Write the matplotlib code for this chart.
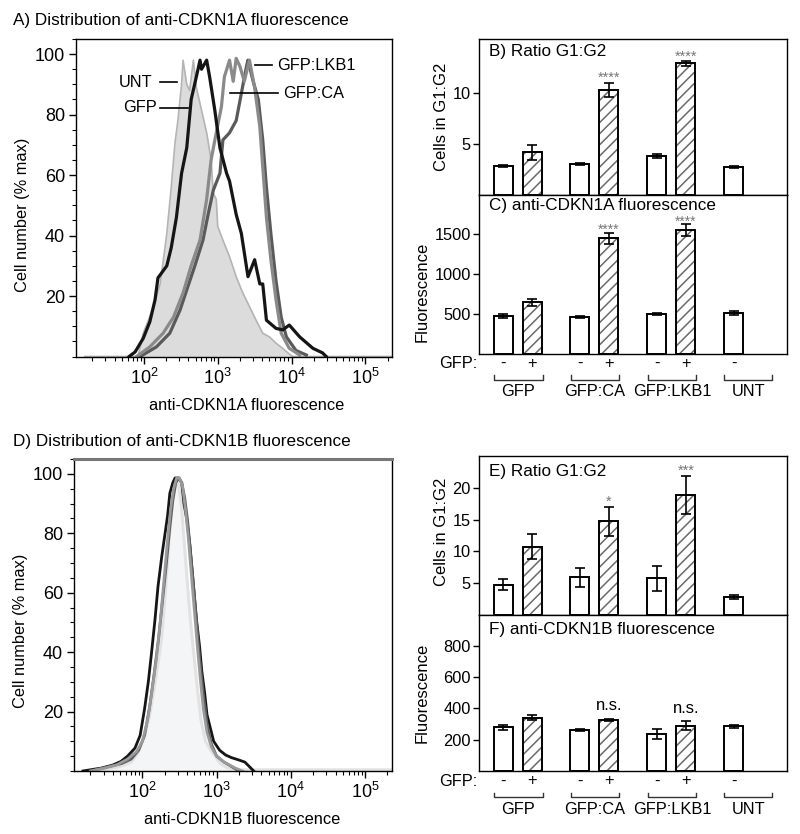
#!/usr/bin/env python3
#coding: utf-8

import numpy as np
import matplotlib
matplotlib.use("Agg")
import matplotlib.pyplot as plt
from matplotlib.ticker import FixedLocator, MultipleLocator, NullFormatter


plt.rcParams['font.family'] = ['Liberation Sans', 'DejaVu Sans']
plt.rcParams['mathtext.default'] = 'regular'
plt.rcParams['hatch.linewidth'] = 1.1

# ---- A) flow histograms, x = log10(fluorescence), y = cell number (% max)
a_gfp_x = [1.2, 1.92, 1.99, 2.06, 2.13, 2.22, 2.31, 2.37, 2.42, 2.46, 2.51, 2.53, 2.58, 2.62, 2.67,
	2.71, 2.78, 2.85, 2.91, 2.94, 2.98, 3.00, 3.07, 3.16, 3.25, 3.34, 3.43, 3.52, 3.61, 3.70,
	3.79, 3.88, 3.97, 4.02, 5.4]
a_gfp_y = [0, 0, 7.7, 12, 16.5, 24, 40.7, 56, 70.5, 78, 90, 98, 90, 88, 98,
	89, 81.5, 74, 65, 54, 52, 43, 38.5, 33, 26.4, 21, 16.5, 12, 7.7, 6.5,
	4.4, 2.7, 0.8, 0, 0]
a_unt_x = [1.8, 1.88, 1.99, 2.08, 2.15, 2.19, 2.31, 2.37, 2.44, 2.51, 2.58, 2.64, 2.71, 2.76, 2.78,
	2.85, 2.89, 2.96, 3.03, 3.12, 3.16, 3.25, 3.32, 3.41, 3.50, 3.57, 3.61, 3.66, 3.79, 3.88,
	3.97, 4.11, 4.29, 4.42, 4.47]
a_unt_y = [0, 1.5, 6, 11.5, 18.7, 26, 30, 36, 46, 60.6, 69, 85, 92.5, 98, 95,
	98, 92.5, 81.5, 69, 60.6, 58, 47, 40.7, 26.4, 32, 24, 24, 12, 9.3, 8.8,
	10.4, 6.5, 2.7, 1.2, 0]
a_ca_x = [1.9, 2.08, 2.26, 2.40, 2.53, 2.64, 2.76, 2.85, 2.91, 2.98, 3.05, 3.09, 3.16, 3.21, 3.25,
	3.30, 3.36, 3.43, 3.50, 3.57, 3.61, 3.66, 3.72, 3.79, 3.86, 3.97, 4.11]
a_ca_y = [0, 3.2, 7.7, 13, 21, 30, 38.5, 52, 65, 74, 82.6, 92.5, 98, 91, 98.6,
	96, 91, 98, 89, 76, 62.7, 46, 32, 18.7, 7.7, 2.7, 0.5]
a_lkb1_x = [1.95, 2.17, 2.35, 2.49, 2.58, 2.69, 2.80, 2.87, 2.94, 3.03, 3.07, 3.16, 3.25, 3.32, 3.39,
	3.41, 3.48, 3.55, 3.61, 3.66, 3.72, 3.79, 3.86, 3.93, 4.06, 4.2]
a_lkb1_y = [0, 3.2, 7.7, 15.4, 22, 30, 38.5, 47, 55, 60.6, 71.6, 74, 78, 87, 96,
	98, 91, 85, 71.6, 56, 40.7, 25, 13, 6.5, 2, 0.5]

# ---- D) flow histograms
d_gfp_x = [1.2, 1.5, 1.7, 1.85, 1.94, 2.02, 2.10, 2.16, 2.21, 2.26, 2.31, 2.36, 2.41, 2.45, 2.49,
	2.53, 2.57, 2.61, 2.65, 2.69, 2.74, 2.79, 2.85, 2.92, 2.98, 3.05, 3.15, 3.3, 5.4]
d_gfp_y = [0, 0.5, 1.5, 3, 6, 11, 19, 28, 36, 45, 60, 78, 92, 98, 96,
	88, 75, 62, 50, 40, 28, 17, 10, 7, 5, 2.5, 1, 0.4, 0.4]
d_unt_x = [1.2, 1.45, 1.6, 1.71, 1.80, 1.90, 1.97, 2.03, 2.08, 2.12, 2.17, 2.21, 2.26, 2.30, 2.34,
	2.37, 2.41, 2.44, 2.49, 2.53, 2.56, 2.60, 2.64, 2.67, 2.70, 2.73, 2.77, 2.80, 2.84, 2.87,
	2.92, 2.96, 3.04, 3.12, 3.20, 3.30, 3.38, 3.44, 3.5]
d_unt_y = [0, 1, 2, 3.2, 5, 7.7, 12, 21, 30, 39, 51, 62, 72, 79, 86,
	93.5, 97, 98.6, 98.6, 97, 90, 84.5, 76, 67.6, 59, 50.6, 42, 33.7, 26, 19,
	14, 10, 7, 5.4, 4.5, 3.7, 3, 1.5, 0]
d_ca_x = [1.3, 1.5, 1.65, 1.8, 1.92, 2.0, 2.07, 2.13, 2.19, 2.24, 2.29, 2.34, 2.38, 2.42, 2.46,
	2.50, 2.54, 2.58, 2.62, 2.66, 2.70, 2.74, 2.78, 2.82, 2.87, 2.93, 3.0, 3.1, 3.25, 3.35]
d_ca_y = [0, 1, 2, 4, 6.5, 10, 17, 27, 38, 50, 64, 78, 88, 95, 98.6,
	98.6, 96, 88, 78, 66, 54, 42, 31, 21, 13, 8, 5, 3, 1, 0]
d_lkb1_x = [1.3, 1.55, 1.72, 1.85, 1.95, 2.03, 2.10, 2.16, 2.22, 2.27, 2.32, 2.37, 2.41, 2.45, 2.49,
	2.53, 2.57, 2.61, 2.65, 2.69, 2.73, 2.77, 2.82, 2.87, 2.93, 3.0, 3.1, 3.2, 3.3]
d_lkb1_y = [0, 1.5, 2.5, 4, 7, 12, 22, 33, 45, 57, 69, 82, 91, 97, 98.6,
	97, 92, 84, 73, 62, 50, 38, 26, 16, 9, 5, 3, 1.5, 0]

# ---- bar charts (B, C, E, F)
groups = ["GFP", "GFP:CA", "GFP:LKB1", "UNT"]
group_members = [[0, 1], [2, 3], [4, 5], [6]]
signs = ["-", "+", "-", "+", "-", "+", "-"]
bar_pos = [0, 1, 2.65, 3.65, 5.3, 6.3, 7.95]
hatched = [False, True, False, True, False, True, False]

b_ratio = [2.8, 4.2, 3.05, 10.3, 3.8, 12.9, 2.75]
b_err = [0.1, 0.75, 0.1, 0.7, 0.2, 0.2, 0.1]
b_marks = {3: "****", 5: "****"}
c_fluo = [466, 643, 462, 1445, 496, 1550, 509]
c_err = [25, 45, 15, 70, 10, 70, 25]
c_marks = {3: "****", 5: "****"}
e_ratio = [4.7, 10.7, 5.9, 14.75, 5.7, 18.95, 2.8]
e_err = [0.85, 2.0, 1.5, 2.3, 2.0, 3.0, 0.35]
e_marks = {3: "*", 5: "***"}
f_fluo = [278, 340, 262, 327, 236, 290, 285]
f_err = [15, 15, 8, 8, 30, 30, 10]
f_marks = {3: "n.s.", 5: "n.s."}


def draw_histogram(ax, fill, curves, xlabel, label_x, ylabel_y):
	fx, fy = fill
	ax.fill_between(10 ** np.array(fx), fy, color='#dcdcdc', lw=0)
	ax.plot(10 ** np.array(fx), fy, color='#b4b4b4', lw=1.2)
	for xs, ys, col, lw in curves:
		ax.plot(10 ** np.array(xs), ys, color=col, lw=lw)
	ax.set_xscale('log')
	ax.set_xlim(12, 2.3e5)
	ax.set_ylim(0, 105)
	ax.xaxis.set_major_locator(FixedLocator([1e2, 1e3, 1e4, 1e5]))
	ax.set_xticklabels(["$10^{2}$", "$10^{3}$", "$10^{4}$", "$10^{5}$"])
	minors = [m * 10 ** d for d in range(1, 6) for m in range(2, 10)]
	ax.xaxis.set_minor_locator(FixedLocator(minors))
	ax.xaxis.set_minor_formatter(NullFormatter())
	ax.yaxis.set_major_locator(FixedLocator([20, 40, 60, 80, 100]))
	ax.yaxis.set_minor_locator(MultipleLocator(5))
	ax.tick_params(which='major', direction='out', length=5, width=1, labelsize=13, pad=3)
	ax.tick_params(which='minor', direction='out', length=3, width=0.8)
	ax.tick_params(top=False, right=False, which='both')
	for sp in ax.spines.values():
		sp.set_linewidth(1)
	ax.set_xlabel(xlabel, fontsize=11.8)
	ax.xaxis.set_label_coords(label_x, -0.13)
	ax.set_ylabel("Cell number (% max)", fontsize=11.8)
	ax.yaxis.set_label_coords(-0.145, ylabel_y)


def draw_bars(ax, values, errors, ylim, yticks, title, title_y, ylabel, ylabel_xy, marks, mark_size, mark_color, mark_off):
	w = 0.66
	ax.bar(bar_pos, values, width=w, color='white', lw=0, zorder=2)
	hx = [p for p, h in zip(bar_pos, hatched) if h]
	hv = [v for v, h in zip(values, hatched) if h]
	ax.bar(hx, hv, width=w, fill=False, hatch='///', edgecolor='#6a6a6a', lw=0, zorder=3)
	ax.bar(bar_pos, values, width=w, fill=False, edgecolor='black', lw=1.4, zorder=4)
	ax.errorbar(bar_pos, values, yerr=errors, fmt='none', ecolor='black', elinewidth=1.2,
		capsize=3.6, capthick=1.2, zorder=5)
	for i, txt in marks.items():
		ax.annotate(txt, (bar_pos[i], values[i] + errors[i]), xytext=(0, mark_off),
			textcoords='offset points', ha='center', va='baseline', fontsize=mark_size, color=mark_color)
	ax.set_xlim(-0.83, 9.79)
	ax.set_ylim(*ylim)
	ax.set_xticks([])
	ax.set_yticks(yticks)
	ax.tick_params(axis='y', direction='out', length=4, width=1, labelsize=11.8, pad=2)
	for sp in ax.spines.values():
		sp.set_linewidth(1)
	ax.text(0.032, title_y, title, transform=ax.transAxes, fontsize=12.3, ha='left', va='center')
	ax.set_ylabel(ylabel, fontsize=12)
	ax.yaxis.set_label_coords(*ylabel_xy)


def draw_groups(ax, fig):
	h = ax.get_position().height * fig.get_figheight() * fig.dpi
	tr = ax.get_xaxis_transform()
	ax.text(-0.88, -10 / h, "GFP:", transform=tr, ha='right', va='center', fontsize=11.8)
	for x, s in zip(bar_pos, signs):
		ax.text(x, -10 / h, s, transform=tr, ha='center', va='center', fontsize=11.8)
	for name, members in zip(groups, group_members):
		x0 = bar_pos[members[0]] - 0.32
		x1 = bar_pos[members[-1]] + 0.36 if len(members) > 1 else bar_pos[members[0]] + 1.33
		ax.plot([x0, x0, x1, x1], [-21.5 / h, -26 / h, -26 / h, -21.5 / h], transform=tr,
			clip_on=False, color='#333333', lw=1)
		ax.text((x0 + x1) / 2, -38.5 / h, name, transform=tr, ha='center', va='center', fontsize=11.8)


if __name__ == "__main__":
	fig = plt.figure(figsize=(8, 8.34), dpi=100)
	H = 834.0
	W = 800.0

	ax_a = fig.add_axes([76 / W, 1 - 356.5 / H, 316 / W, 317.5 / H])
	ax_b = fig.add_axes([479 / W, 1 - 195 / H, 308 / W, 156 / H])
	ax_c = fig.add_axes([479 / W, 1 - 353.5 / H, 308 / W, 158.5 / H])
	ax_d = fig.add_axes([74 / W, 1 - 771 / H, 318 / W, 312 / H])
	ax_e = fig.add_axes([479 / W, 1 - 614.5 / H, 308 / W, 158.5 / H])
	ax_f = fig.add_axes([479 / W, 1 - 771 / H, 308 / W, 156.5 / H])

	fig.text(13 / W, 1 - 21 / H, "A) Distribution of anti-CDKN1A fluorescence", fontsize=12.3, va='center')
	fig.text(13 / W, 1 - 441 / H, "D) Distribution of anti-CDKN1B fluorescence", fontsize=12.3, va='center')

	draw_histogram(ax_a, (a_gfp_x, a_gfp_y),
		[(a_lkb1_x, a_lkb1_y, '#5a5a5a', 2.3),
		 (a_ca_x, a_ca_y, '#8a8a8a', 2.3),
		 (a_unt_x, a_unt_y, '#151515', 2.3)],
		"anti-CDKN1A fluorescence", 0.54, 0.446)
	# labels inside panel A
	ax_a.text(10 ** 2.11, 90.7, "UNT", ha='right', va='center', fontsize=11.8)
	ax_a.plot([10 ** 2.216, 10 ** 2.446], [90.7, 90.7], color='black', lw=1.2)
	ax_a.text(10 ** 2.176, 82.2, "GFP", ha='right', va='center', fontsize=11.8)
	ax_a.plot([10 ** 2.216, 10 ** 2.595], [82.2, 82.2], color='black', lw=1.2)
	ax_a.text(10 ** 3.80, 96.4, "GFP:LKB1", ha='left', va='center', fontsize=11.8)
	ax_a.plot([10 ** 3.50, 10 ** 3.73], [96.4, 96.4], color='black', lw=1.2)
	ax_a.text(10 ** 3.88, 87.1, "GFP:CA", ha='left', va='center', fontsize=11.8)
	ax_a.plot([10 ** 3.16, 10 ** 3.81], [87.1, 87.1], color='black', lw=1.2)

	draw_histogram(ax_d, (d_gfp_x, d_gfp_y),
		[(d_unt_x, d_unt_y, '#151515', 2.0),
		 (d_lkb1_x, d_lkb1_y, '#606060', 2.0),
		 (d_ca_x, d_ca_y, '#9a9a9a', 2.0)],
		"anti-CDKN1B fluorescence", 0.528, 0.449)
	ax_d.collections[0].set_color('#f4f5f7')
	ax_d.lines[0].set_color('#e2e2e2')
	ax_d.lines[0].set_linewidth(2.2)
	ax_d.spines['top'].set_linewidth(2.2)
	ax_d.spines['top'].set_color('#777777')

	draw_bars(ax_b, b_ratio, b_err, (0, 15.3), [5, 10], "B) Ratio G1:G2", 0.923,
		"Cells in G1:G2", (-0.097, 0.5), b_marks, 10.5, '#777777', 0.5)
	draw_bars(ax_c, c_fluo, c_err, (0, 1990), [500, 1000, 1500], "C) anti-CDKN1A fluorescence", 0.935,
		"Fluorescence", (-0.16, 0.39), c_marks, 10, '#777777', -1)
	draw_bars(ax_e, e_ratio, e_err, (0, 25.05), [5, 10, 15, 20], "E) Ratio G1:G2", 0.90,
		"Cells in G1:G2", (-0.097, 0.52), e_marks, 10.5, '#777777', 0.5)
	draw_bars(ax_f, f_fluo, f_err, (0, 1000), [200, 400, 600, 800], "F) anti-CDKN1B fluorescence", 0.905,
		"Fluorescence", (-0.16, 0.5), f_marks, 12, 'black', 6)
	draw_groups(ax_c, fig)
	draw_groups(ax_f, fig)

	fig.savefig("out.png", dpi=100)
